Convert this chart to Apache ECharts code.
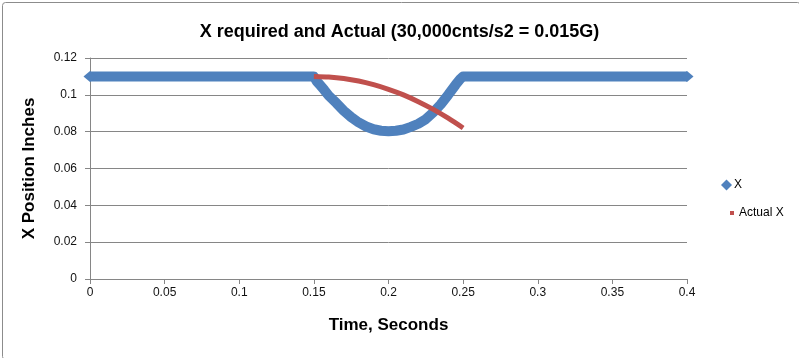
<!DOCTYPE html>
<html>
<head>
<meta charset="utf-8">
<script src="https://cdn.jsdelivr.net/npm/echarts@6/dist/echarts.min.js"></script>
<style>
html,body{margin:0;padding:0;background:#fff;}
#c{width:799px;height:358px;}
</style>
</head>
<body>
<div id="c"></div>
<script>
// Series "X" (required position): time (s) and position (inches)
const xTime = [0, 0.05, 0.10, 0.150, 0.152, 0.154, 0.157, 0.160, 0.165, 0.170, 0.175, 0.180, 0.185, 0.190, 0.195, 0.200,
  0.205, 0.210, 0.215, 0.220, 0.225, 0.230, 0.235, 0.240, 0.245, 0.248, 0.250, 0.30, 0.35, 0.40];
const xValue = [0.110, 0.110, 0.110, 0.1100, 0.1072, 0.1055, 0.1026, 0.0995, 0.0956, 0.0914, 0.0879, 0.0850, 0.0828, 0.0813, 0.0805, 0.0802,
  0.0805, 0.0812, 0.0826, 0.0843, 0.0868, 0.0905, 0.0948, 0.1000, 0.1055, 0.1085, 0.1100, 0.110, 0.110, 0.110];
// Series "Actual X"
const actualTime = [0.150, 0.160, 0.170, 0.180, 0.190, 0.200, 0.210, 0.220, 0.230, 0.240, 0.250];
const actualValue = [0.1100, 0.1097, 0.1089, 0.1075, 0.1055, 0.1030, 0.1000, 0.0963, 0.0921, 0.0873, 0.0820];

const seriesNames = ['X', 'Actual X'];
const titleText = 'X required and Actual (30,000cnts/s2 = 0.015G)';
const xAxisTitle = 'Time, Seconds';
const yAxisTitle = 'X Position Inches';

const FONT = "'Liberation Sans', sans-serif";
const pair = (ts, vs) => ts.map((t, i) => [t, vs[i]]);
const xData = pair(xTime, xValue);
const aData = pair(actualTime, actualValue);

const chart = echarts.init(document.getElementById('c'), null, {renderer: 'canvas'});
chart.setOption({
  animation: false,
  backgroundColor: '#fff',
  title: {
    text: titleText, left: 'center', top: 18,
    textStyle: {fontFamily: FONT, fontSize: 18, fontWeight: 'bold', color: '#000'}
  },
  graphic: [{
    type: 'rect', left: 0, top: 0, z: -10,
    shape: {x: 0.5, y: 0.5, width: 798, height: 357, r: 3},
    style: {fill: 'none', stroke: '#8c8c8c', lineWidth: 1}
  }],
  grid: {left: 90, right: 112, top: 58, bottom: 79},
  legend: [
    {
      left: 716, top: 174, itemWidth: 11, itemHeight: 11, itemGap: 4,
      textStyle: {fontFamily: FONT, fontSize: 12, color: '#000', padding: [0, 0, 0, -3]},
      data: [{name: seriesNames[0], icon: 'diamond'}]
    },
    {
      left: 725, top: 202, itemWidth: 4, itemHeight: 4,
      textStyle: {fontFamily: FONT, fontSize: 12, color: '#000'},
      data: [{name: seriesNames[1], icon: 'rect'}]
    }
  ],
  xAxis: {
    type: 'value', min: 0, max: 0.4, interval: 0.05,
    name: xAxisTitle, nameLocation: 'middle', nameGap: 38,
    nameTextStyle: {fontFamily: FONT, fontSize: 17, fontWeight: 'bold', color: '#000'},
    axisLine: {show: true, onZero: false, lineStyle: {color: '#868686'}},
    axisTick: {show: true, length: 5, lineStyle: {color: '#868686'}},
    axisLabel: {fontFamily: FONT, fontSize: 12, color: '#111', margin: 8},
    splitLine: {show: false}
  },
  yAxis: {
    type: 'value', min: 0, max: 0.12, interval: 0.02,
    name: yAxisTitle, nameLocation: 'middle', nameGap: 52, nameRotate: 90,
    nameTextStyle: {fontFamily: FONT, fontSize: 17, fontWeight: 'bold', color: '#000'},
    axisLine: {show: true, lineStyle: {color: '#868686'}},
    axisTick: {show: true, length: 5, lineStyle: {color: '#868686'}},
    axisLabel: {fontFamily: FONT, fontSize: 12, color: '#111', margin: 13},
    splitLine: {show: true, lineStyle: {color: '#868686', width: 1}}
  },
  series: [
    {
      name: seriesNames[0], type: 'line', data: xData,
      color: '#4F81BD',
      lineStyle: {width: 10, color: '#4F81BD', join: 'round'},
      symbol: 'diamond',
      symbolSize: (v, p) => (p.dataIndex === 0 || p.dataIndex === xData.length - 1) ? [13, 11] : 0,
      showAllSymbol: true,
      itemStyle: {color: '#4F81BD'}
    },
    {
      name: seriesNames[1], type: 'line', data: aData,
      color: '#C0504D',
      smooth: 0.3,
      lineStyle: {width: 5, color: '#C0504D'},
      symbol: 'none',
      itemStyle: {color: '#C0504D'}
    }
  ]
});
</script>
</body>
</html>
